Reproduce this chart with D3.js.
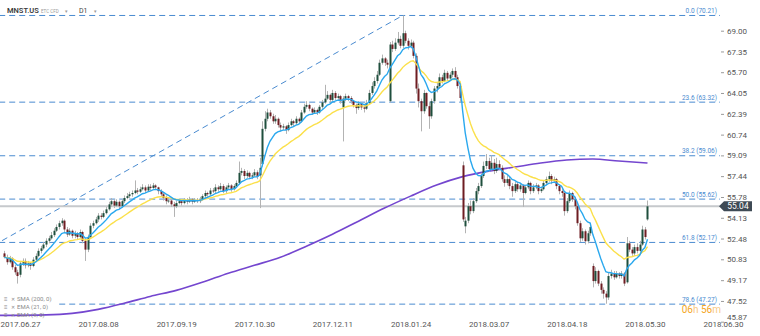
<!DOCTYPE html>
<html>
<head>
<meta charset="utf-8">
<script src="https://cdn.jsdelivr.net/npm/d3@7"></script>
<style>
  body { margin: 0; background: #ffffff; }
  svg { display: block; font-family: Roboto, "Liberation Sans", Arial, sans-serif; }
</style>
</head>
<body>
<svg id="chart" width="760" height="336"></svg>
<script>
// MNST.US daily candles; bar index 0 = 2017.06.27, index 240 = 2018.05.30
const firstBar = -6;

const opens = [
  51.3, 51.0, 50.6, 50.9, 50.2, 49.8, 49.6, 50.5, 50.7, 50.35,
  50.5, 50.3, 50.8, 51.1, 51.5, 51.7, 52.0, 52.3, 52.5, 52.75,
  53.1, 53.4, 53.7, 53.9, 53.2, 52.8, 53.1, 52.7, 52.9, 52.6,
  53.0, 52.3, 51.6, 52.6, 53.5, 53.7, 54.0, 54.3, 54.2, 54.5,
  54.8, 55.2, 55.45, 55.1, 55.4, 55.05, 55.45, 55.7, 55.85, 56.0,
  56.1, 56.3, 56.2, 56.4, 56.55, 56.3, 56.6, 56.5, 56.7, 56.55,
  56.25, 56.0, 55.7, 55.45, 55.5, 55.2, 55.05, 55.3, 55.45, 55.3,
  55.55, 55.4, 55.6, 55.4, 55.55, 55.45, 55.6, 55.85, 56.1, 56.0,
  56.3, 56.25, 56.55, 56.4, 56.65, 56.25, 56.55, 56.7, 56.4, 56.65,
  56.9, 57.7, 57.85, 57.45, 57.7, 57.4, 57.5, 57.75, 57.5, 58.4,
  61.2, 62.0, 62.5, 62.2, 61.8, 62.0, 61.5, 61.3, 61.4, 61.1,
  61.5, 61.8, 61.65, 62.0, 61.8, 62.5, 62.95, 63.1, 62.8, 62.5,
  62.7, 62.5, 62.95, 63.3, 63.6, 63.9, 63.5, 64.05, 63.65, 63.8,
  62.9, 63.6, 63.8, 63.65, 63.4, 63.1, 62.85, 63.2, 62.9, 62.8,
  63.25, 64.05, 64.6, 65.0, 65.5, 66.45, 66.8, 66.45, 63.4, 67.9,
  67.55, 68.05, 68.35, 67.8, 68.8, 68.2, 67.8, 68.05, 67.0, 64.4,
  63.4, 62.6, 64.05, 63.0, 62.2, 63.4, 64.4, 64.6, 65.3, 65.0,
  65.65, 65.2, 65.5, 65.8, 65.3, 64.6, 58.3, 53.45, 53.9, 55.05,
  54.66, 55.45, 56.25, 56.65, 57.45, 58.25, 58.64, 58.0, 58.5, 57.85,
  58.4, 58.1, 57.2, 56.9, 57.2, 56.65, 56.25, 56.8, 56.4, 56.7,
  56.1, 56.55, 56.9, 56.25, 56.55, 56.7, 56.25, 56.4, 56.9, 57.2,
  57.45, 57.05, 57.2, 56.65, 56.25, 56.1, 54.66, 55.45, 56.1, 55.6,
  55.05, 53.7, 52.5, 53.06, 52.27, 52.9, 50.3, 49.1, 49.9, 48.9,
  48.4, 48.1, 47.8, 49.5, 49.7, 49.4, 49.7, 49.5, 49.7, 49.0,
  52.1, 51.6, 51.3, 51.8, 51.5, 52.0, 53.2, 54.0
];

const highs = [
  51.5, 51.2, 51.1, 51.0, 50.4, 50.0, 50.7, 50.9, 50.9, 50.7,
  50.6, 51.0, 51.3, 51.7, 51.9, 52.2, 52.5, 52.7, 53.0, 53.3,
  53.6, 53.9, 54.1, 54.0, 53.4, 53.3, 53.2, 53.1, 53.0, 53.2,
  53.1, 52.5, 52.8, 53.7, 53.9, 54.2, 54.5, 54.5, 54.7, 55.0,
  55.4, 55.7, 55.6, 55.6, 55.5, 55.6, 55.9, 56.1, 56.2, 56.3,
  57.1, 56.5, 56.6, 56.8, 56.7, 56.8, 56.8, 56.9, 56.8, 56.6,
  56.4, 56.1, 55.9, 55.7, 55.6, 55.4, 55.5, 55.6, 55.5, 55.7,
  55.7, 55.8, 55.7, 55.7, 55.7, 55.8, 56.0, 56.3, 56.2, 56.5,
  56.5, 56.8, 56.7, 56.9, 56.8, 56.7, 56.9, 56.8, 56.8, 57.1,
  58.6, 58.1, 58.0, 57.9, 57.8, 57.7, 58.0, 57.9, 58.9, 61.8,
  62.6, 62.8, 62.7, 62.4, 62.3, 62.1, 61.7, 61.6, 61.5, 61.7,
  62.0, 61.9, 62.2, 62.1, 62.7, 63.2, 63.4, 63.2, 62.9, 62.9,
  62.8, 63.1, 63.5, 64.7, 64.2, 64.0, 64.3, 64.2, 64.0, 63.9,
  63.8, 64.0, 63.9, 63.8, 63.5, 63.2, 63.4, 63.3, 63.1, 63.5,
  64.3, 64.9, 65.3, 65.8, 66.7, 67.1, 66.9, 66.7, 68.1, 68.2,
  68.4, 68.9, 68.6, 70.21, 69.0, 68.4, 68.3, 68.2, 67.2, 64.8,
  63.6, 64.3, 64.1, 63.3, 63.6, 64.6, 64.9, 65.6, 65.5, 65.9,
  65.8, 65.7, 66.0, 66.1, 65.5, 64.8, 58.6, 54.2, 55.3, 55.5,
  55.7, 56.5, 56.9, 57.7, 58.6, 59.2, 58.9, 59.1, 58.8, 58.9,
  58.7, 58.3, 57.5, 57.5, 57.4, 56.9, 57.0, 57.0, 56.9, 56.8,
  56.7, 57.1, 57.0, 56.8, 56.9, 56.8, 56.6, 57.1, 57.4, 57.8,
  57.6, 57.4, 57.3, 56.8, 56.4, 56.2, 55.7, 56.3, 56.2, 55.8,
  55.2, 53.9, 53.3, 53.2, 53.1, 53.6, 50.5, 50.2, 50.0, 49.1,
  48.6, 48.3, 49.8, 50.0, 49.9, 49.9, 49.8, 49.9, 49.8, 52.6,
  52.3, 51.8, 52.0, 52.1, 52.3, 53.5, 53.4, 55.5
];

const lows = [
  50.9, 50.4, 50.5, 50.0, 49.6, 48.9, 49.4, 50.3, 50.1, 50.2,
  50.0, 50.2, 50.6, 51.0, 51.3, 51.6, 51.8, 52.1, 52.4, 52.6,
  53.0, 53.2, 53.5, 53.0, 52.6, 52.7, 52.5, 52.5, 52.4, 52.5,
  52.1, 50.7, 51.4, 52.5, 53.3, 53.6, 53.8, 54.0, 54.1, 54.4,
  54.7, 55.0, 54.9, 55.0, 54.8, 54.9, 55.3, 55.6, 55.7, 55.8,
  56.0, 56.0, 56.1, 56.3, 56.1, 56.2, 56.3, 56.4, 56.4, 56.0,
  55.8, 55.5, 55.2, 55.3, 55.0, 54.2, 54.9, 55.2, 55.1, 55.2,
  55.2, 55.3, 55.2, 55.3, 55.3, 55.3, 55.5, 55.7, 55.8, 55.9,
  56.1, 56.1, 56.2, 56.3, 56.1, 56.1, 56.4, 56.2, 56.3, 56.5,
  56.8, 57.5, 57.2, 57.3, 57.2, 57.2, 57.4, 57.2, 54.9, 58.2,
  61.0, 61.8, 62.0, 61.6, 61.6, 61.3, 61.0, 61.1, 60.8, 61.0,
  61.4, 61.4, 61.5, 61.6, 61.7, 62.4, 62.8, 62.6, 62.3, 62.4,
  62.3, 62.4, 62.8, 63.2, 63.5, 63.3, 63.4, 63.5, 63.5, 63.2,
  60.2, 63.4, 63.4, 63.2, 62.9, 62.4, 62.7, 62.7, 62.5, 62.7,
  63.1, 63.9, 64.4, 64.8, 65.4, 66.3, 66.2, 66.0, 63.3, 67.3,
  67.4, 67.9, 67.6, 67.6, 68.0, 67.5, 67.6, 66.8, 64.0, 62.9,
  61.0, 62.4, 62.8, 61.2, 62.0, 63.2, 64.1, 64.4, 64.8, 64.9,
  65.0, 65.0, 65.3, 65.1, 64.4, 63.3, 53.8, 52.9, 53.7, 54.4,
  54.5, 55.3, 56.0, 56.5, 57.3, 58.0, 57.8, 57.9, 57.6, 57.7,
  57.9, 57.0, 56.6, 56.7, 56.4, 55.8, 56.1, 56.2, 56.2, 55.0,
  56.0, 56.4, 56.0, 56.1, 56.4, 56.0, 56.1, 56.3, 56.7, 57.0,
  56.8, 56.9, 56.4, 56.0, 55.8, 54.3, 54.5, 55.3, 55.4, 54.8,
  53.5, 52.2, 52.3, 52.0, 52.1, 52.7, 48.6, 48.9, 48.7, 48.1,
  47.7, 47.3, 47.6, 49.3, 49.2, 49.3, 49.3, 49.3, 48.7, 48.9,
  51.4, 51.1, 51.1, 51.3, 51.3, 51.9, 52.4, 53.9
];

const closes = [
  51.0, 50.6, 50.9, 50.2, 49.8, 49.5, 50.5, 50.7, 50.35, 50.5,
  50.3, 50.8, 51.1, 51.5, 51.7, 52.0, 52.3, 52.5, 52.75, 53.1,
  53.4, 53.7, 53.9, 53.2, 52.8, 53.1, 52.7, 52.9, 52.6, 53.0,
  52.3, 51.6, 52.6, 53.5, 53.7, 54.0, 54.3, 54.2, 54.5, 54.8,
  55.2, 55.45, 55.1, 55.4, 55.05, 55.45, 55.7, 55.85, 56.0, 56.1,
  56.3, 56.2, 56.4, 56.55, 56.3, 56.6, 56.5, 56.7, 56.55, 56.25,
  56.0, 55.7, 55.45, 55.5, 55.2, 55.05, 55.3, 55.45, 55.3, 55.55,
  55.4, 55.6, 55.4, 55.55, 55.45, 55.6, 55.85, 56.1, 56.0, 56.3,
  56.25, 56.55, 56.4, 56.65, 56.25, 56.55, 56.7, 56.4, 56.65, 56.9,
  57.7, 57.85, 57.45, 57.7, 57.4, 57.5, 57.75, 57.4, 58.1, 61.2,
  62.0, 62.5, 62.2, 61.8, 62.0, 61.5, 61.3, 61.4, 61.1, 61.5,
  61.8, 61.65, 62.0, 61.8, 62.5, 62.95, 63.1, 62.8, 62.5, 62.7,
  62.5, 62.95, 63.3, 63.6, 63.9, 63.5, 64.05, 63.65, 63.8, 63.4,
  63.6, 63.8, 63.65, 63.4, 63.1, 62.85, 63.2, 62.9, 62.8, 63.25,
  64.05, 64.6, 65.0, 65.5, 66.45, 66.8, 66.45, 66.3, 67.9, 67.55,
  68.05, 68.35, 67.8, 68.8, 68.2, 67.8, 68.05, 67.0, 64.4, 63.4,
  62.6, 64.05, 63.0, 62.2, 63.4, 64.4, 64.6, 65.3, 65.0, 65.65,
  65.2, 65.5, 65.8, 65.3, 64.6, 63.65, 54.0, 53.9, 55.05, 54.66,
  55.45, 56.25, 56.65, 57.45, 58.25, 58.64, 58.0, 58.5, 57.85, 58.4,
  58.1, 57.2, 56.9, 57.2, 56.65, 56.25, 56.8, 56.4, 56.7, 56.1,
  56.55, 56.9, 56.25, 56.55, 56.7, 56.25, 56.4, 56.9, 57.2, 57.45,
  57.05, 57.2, 56.65, 56.25, 56.1, 54.66, 55.45, 56.1, 55.6, 55.05,
  53.7, 52.5, 53.06, 52.27, 52.9, 53.4, 49.1, 49.9, 48.9, 48.4,
  48.1, 47.8, 49.5, 49.7, 49.4, 49.7, 49.5, 49.7, 48.9, 52.1,
  51.6, 51.3, 51.8, 51.5, 52.0, 53.2, 52.6, 55.04
];

// 200-period SMA, sampled at bar indices
const sma200Bars = [-8, 10, 20, 30, 40, 50, 60, 70, 80, 90, 100, 110, 120, 130, 140, 150, 160, 170, 180, 190, 200, 210, 220, 230, 241];
const sma200Vals = [46.37, 46.41, 46.53, 46.85, 47.33, 47.88, 48.36, 49.0, 49.72, 50.35, 50.99, 51.87, 52.82, 53.86, 54.9, 55.85, 56.73, 57.4, 57.84, 58.16, 58.48, 58.72, 58.8, 58.64, 58.48];

// Axis labels
const dateTickBars = [0, 30, 60, 90, 120, 150, 180, 210, 240, 270];
const dateLabels = ["2017.06.27", "2017.08.08", "2017.09.19", "2017.10.30", "2017.12.11",
                    "2018.01.24", "2018.03.07", "2018.04.18", "2018.05.30", "2018.06.30"];
const priceTicks = [69.00, 67.35, 65.70, 64.05, 62.39, 60.74, 59.09, 57.44, 55.78, 54.13, 52.48, 50.83, 49.17, 47.52, 45.87];

// Fibonacci retracement between swing low and swing high
const fibLow = { bar: -104, price: 41.02 };
const fibHigh = { bar: 147, price: 70.21 };
const fibPercents = [0.0, 23.6, 38.2, 50.0, 61.8, 78.6];

const lastPrice = 55.04;
const legendItems = ["SMA (200, 0)", "EMA (21, 0)", "EMA (9, 0)"];

// ---------- drawing ----------
const svg = d3.select("#chart");
const plotRight = 720;

const x = d3.scaleLinear().domain([0, 270]).range([20, 723]);
const y = d3.scaleLinear().domain([45.87, 69]).range([321.7, 30.7]);

const bars = closes.map((c, k) => ({
  i: firstBar + k, o: opens[k], h: highs[k], l: lows[k], c: c
}));

function ema(values, n) {
  const k = 2 / (n + 1);
  const out = [];
  let prev = values[0];
  values.forEach((v, idx) => {
    prev = idx === 0 ? v : v * k + prev * (1 - k);
    out.push(prev);
  });
  return out;
}
const ema21 = ema(closes, 21);
const ema9 = ema(closes, 9);

svg.append("defs").append("clipPath").attr("id", "plotClip")
  .append("rect").attr("x", 0).attr("y", 0).attr("width", plotRight).attr("height", 336);

const plot = svg.append("g").attr("clip-path", "url(#plotClip)");

const fibColor = "#4a8bd0";
const fmt2 = v => (Math.round(v * 100 + 1e-6) / 100).toFixed(2);
const fibRange = fibHigh.price - fibLow.price;
const fibData = fibPercents.map(p => ({ p, price: fibHigh.price - fibRange * p / 100 }));

// diagonal trend line of the retracement
plot.append("line")
  .attr("x1", x(fibLow.bar)).attr("y1", y(fibLow.price))
  .attr("x2", x(fibHigh.bar)).attr("y2", y(fibHigh.price))
  .attr("stroke", fibColor).attr("stroke-width", 1).attr("stroke-dasharray", "6,4");

plot.selectAll("line.fib").data(fibData).join("line")
  .attr("class", "fib")
  .attr("x1", x(fibLow.bar)).attr("x2", plotRight)
  .attr("y1", d => y(d.price)).attr("y2", d => y(d.price))
  .attr("stroke", fibColor).attr("stroke-width", 1).attr("stroke-dasharray", "6,4");

svg.selectAll("text.fibLabel").data(fibData).join("text")
  .attr("class", "fibLabel")
  .attr("x", 717).attr("y", d => y(d.price) - 2.5)
  .attr("text-anchor", "end")
  .attr("font-size", 6.5)
  .attr("fill", fibColor)
  .text(d => `${d.p.toFixed(1)} (${fmt2(d.price)})`);

// last price line
plot.append("line")
  .attr("x1", 0).attr("x2", plotRight)
  .attr("y1", y(lastPrice)).attr("y2", y(lastPrice))
  .attr("stroke", "#c6c9cc").attr("stroke-width", 2);

// legend backdrop sits over the retracement lines but under the indicators
plot.append("rect").attr("x", 0).attr("y", 292).attr("width", 58).attr("height", 17).attr("fill", "#ffffff");

// SMA 200
plot.append("path")
  .datum(sma200Bars.map((b, k) => [b, sma200Vals[k]]))
  .attr("fill", "none").attr("stroke", "#7446cf").attr("stroke-width", 1.6)
  .attr("d", d3.line().x(d => x(d[0])).y(d => y(d[1])).curve(d3.curveMonotoneX));

// candles
const bull = "#1f4f3d", bear = "#6e1d22";
const candle = plot.selectAll("g.candle").data(bars).join("g").attr("class", "candle");
candle.append("line")
  .attr("x1", d => Math.round(x(d.i)) + 0.5).attr("x2", d => Math.round(x(d.i)) + 0.5)
  .attr("y1", d => y(d.h)).attr("y2", d => y(d.l))
  .attr("stroke", "#b3b3b3").attr("stroke-width", 1);
candle.append("rect")
  .attr("x", d => Math.round(x(d.i)) - 0.5)
  .attr("width", 2)
  .attr("y", d => y(Math.max(d.o, d.c)))
  .attr("height", d => Math.max(1, Math.abs(y(d.o) - y(d.c))))
  .attr("fill", d => d.c >= d.o ? bull : bear);

// EMA lines
const lineGen = d3.line().x(d => x(d[0])).y(d => y(d[1]));
plot.append("path")
  .datum(bars.map((b, k) => [b.i, ema21[k]]))
  .attr("fill", "none").attr("stroke", "#fbe04a").attr("stroke-width", 1.4)
  .attr("d", lineGen);
plot.append("path")
  .datum(bars.map((b, k) => [b.i, ema9[k]]))
  .attr("fill", "none").attr("stroke", "#2aa8ee").attr("stroke-width", 1.4)
  .attr("d", lineGen);

// price axis
const yAxis = svg.append("g").attr("transform", `translate(${plotRight + 1},0)`)
  .call(d3.axisRight(y).tickValues(priceTicks).tickSize(3).tickPadding(3).tickFormat(d3.format(".2f")));
yAxis.select(".domain").remove();
yAxis.selectAll(".tick line").attr("stroke", "#9a9a9a");
yAxis.selectAll(".tick text").attr("fill", "#555").attr("font-size", 8)
  .attr("font-family", "Roboto, 'Liberation Sans', Arial, sans-serif")
  .attr("dy", d => d === 45.87 ? "-0.3em" : "0.32em");

// date axis
const xAxis = svg.append("g").attr("transform", "translate(0,321)")
  .call(d3.axisBottom(x).tickValues(dateTickBars).tickSize(0).tickPadding(0)
    .tickFormat((d, k) => dateLabels[k]));
xAxis.select(".domain").remove();
xAxis.selectAll(".tick text").attr("fill", "#555").attr("font-size", 8)
  .attr("font-family", "Roboto, 'Liberation Sans', Arial, sans-serif")
  .attr("dy", "0.8em");

// last price tag
const ly = y(lastPrice);
svg.append("path")
  .attr("d", `M${plotRight - 1},${ly} L${plotRight + 4},${ly - 5} L${plotRight + 32},${ly - 5} L${plotRight + 32},${ly + 5} L${plotRight + 4},${ly + 5} Z`)
  .attr("fill", "#3e4a55");
svg.append("text")
  .attr("x", plotRight + 18).attr("y", ly).attr("dy", "0.35em")
  .attr("text-anchor", "middle").attr("font-size", 8.5).attr("fill", "#ffffff")
  .text(lastPrice.toFixed(2));

// countdown to candle close
const cd = svg.append("text").attr("x", 721).attr("y", 313).attr("text-anchor", "end")
  .attr("font-size", 10);
cd.append("tspan").attr("fill", "#f5a623").text("06");
cd.append("tspan").attr("fill", "#f8c982").text("h ");
cd.append("tspan").attr("fill", "#f5a623").text("56");
cd.append("tspan").attr("fill", "#f8c982").text("m");

// indicator legend
const legend = svg.append("g");
legendItems.forEach((t, k) => {
  const ry = 299 + k * 8;
  legend.append("text").attr("x", 4).attr("y", ry).attr("dy", "0.35em").attr("font-size", 6).attr("fill", "#8a8a8a").text("≡");
  legend.append("text").attr("x", 11).attr("y", ry).attr("dy", "0.35em").attr("font-size", 5).attr("fill", "#8a8a8a").text("✕");
  legend.append("text").attr("x", 17).attr("y", ry).attr("dy", "0.35em").attr("font-size", 6).attr("fill", "#8a8a8a").text(t);
});

// symbol header
const header = svg.append("g");
header.append("text").attr("x", 7).attr("y", 13).attr("font-size", 7.5).attr("font-weight", 600).attr("fill", "#3a3a3a").text("MNST.US");
header.append("text").attr("x", 41).attr("y", 12.5).attr("font-size", 4.5).attr("fill", "#9a9a9a").text("ETC CFD");
header.append("text").attr("x", 65).attr("y", 12.5).attr("font-size", 5).attr("fill", "#9a9a9a").text("▾");
header.append("text").attr("x", 79).attr("y", 13).attr("font-size", 7).attr("fill", "#444").text("D1");
header.append("text").attr("x", 94).attr("y", 12.5).attr("font-size", 5).attr("fill", "#9a9a9a").text("▾");
</script>
</body>
</html>
